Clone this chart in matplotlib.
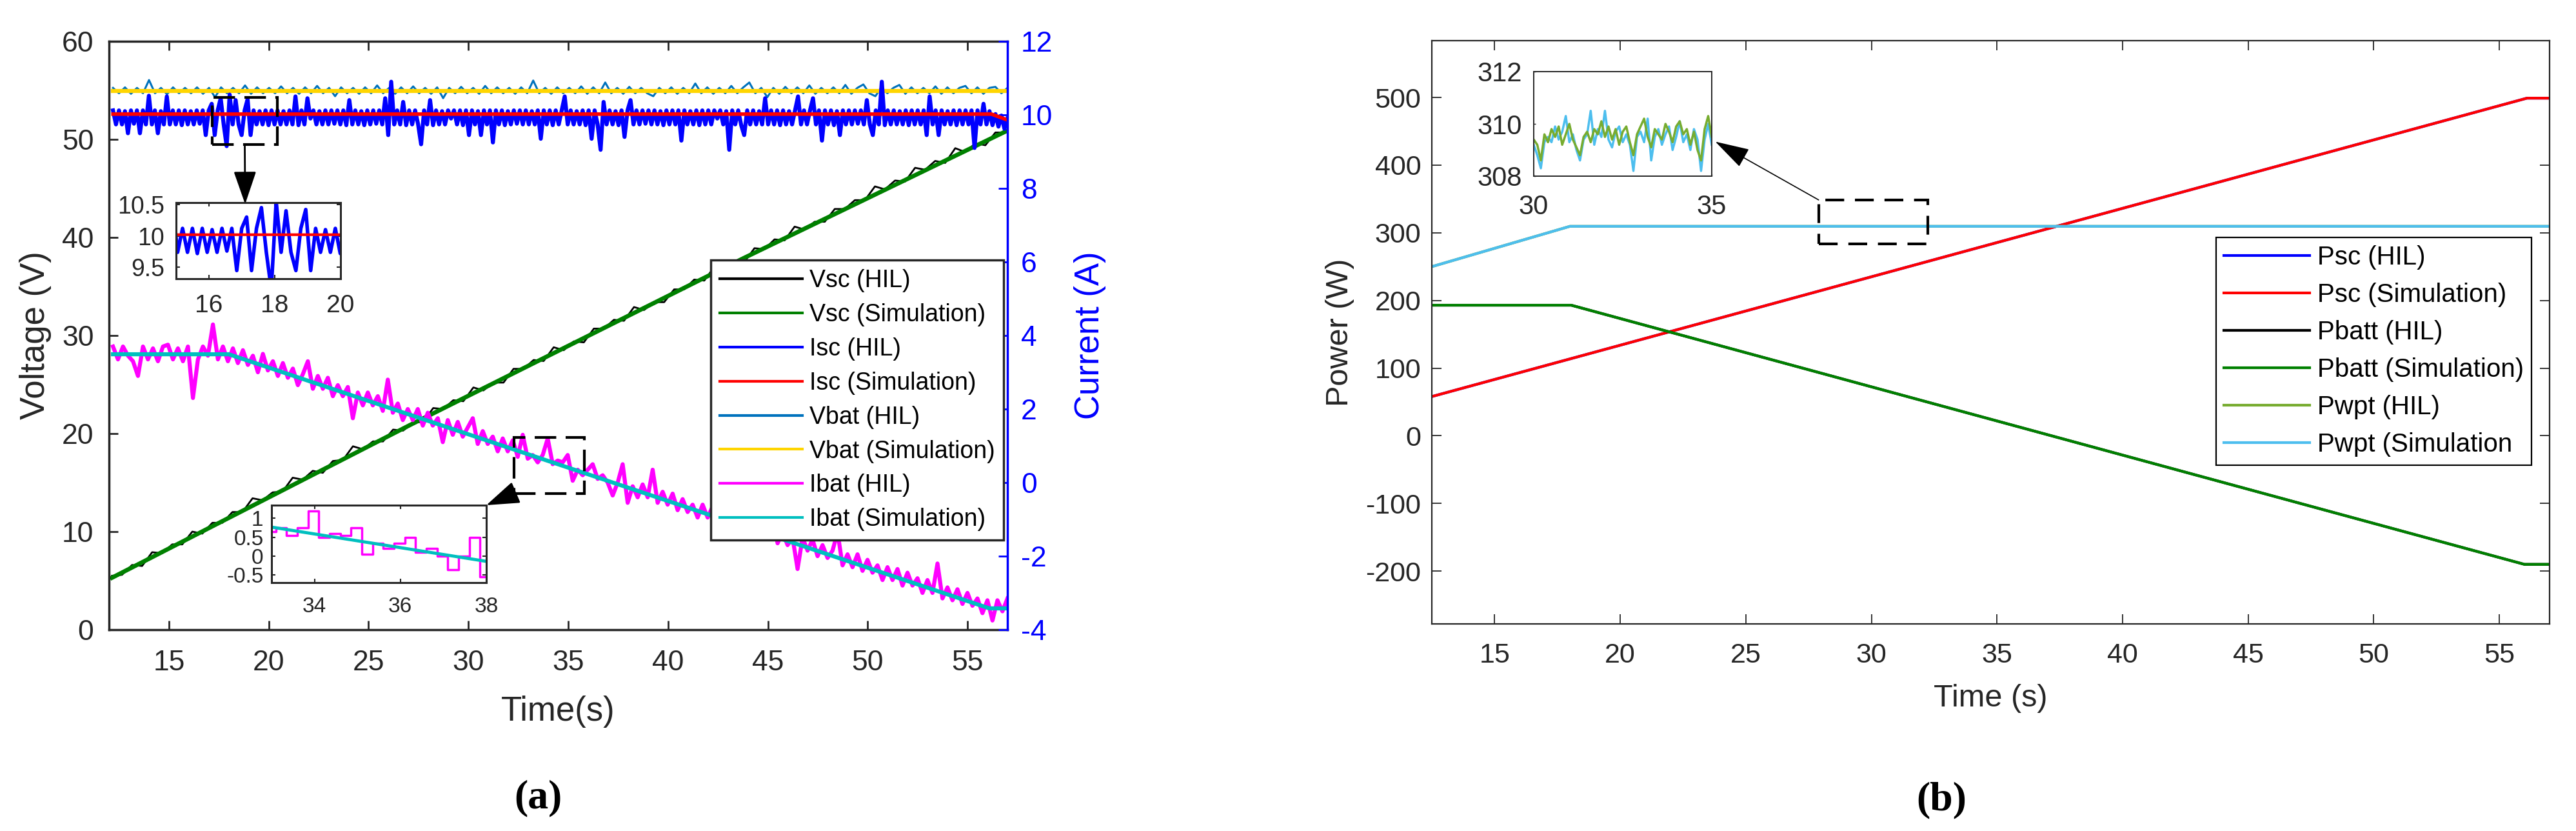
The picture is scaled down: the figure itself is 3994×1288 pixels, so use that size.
import numpy as np
import matplotlib
matplotlib.use('Agg')
import matplotlib.pyplot as plt
from matplotlib.patches import Rectangle, ConnectionPatch

plt.rcParams['font.family'] = ['Liberation Sans', 'DejaVu Sans']
plt.rcParams['axes.unicode_minus'] = False

# ---------------- (a) data ----------------
# simulation traces: breakpoints (time s, value)
vsc_sim_t = [12.15, 27.2, 43.8, 56.9]
vsc_sim = [5.3, 21.0, 37.9, 50.8]
isc_sim_t = [12.2, 56.2, 56.5, 57.0]
isc_sim = [10.02, 10.02, 9.96, 9.86]
vbat_sim_t = [12.2, 57.0]
vbat_sim = [54.95, 54.95]
ibat_sim_t = [12.2, 18.0, 56.1, 57.0]
ibat_sim = [3.49, 3.49, -3.42, -3.42]

# HIL traces, evenly sampled between the given start/end times
vsc_hil_span = (12.15, 56.9)
vsc_hil = [5.5, 5.6, 6.6, 6.5, 7.9, 7.8, 8.7, 8.7, 10.0, 9.8,
           10.9, 10.9, 12.0, 12.0, 13.4, 13.2, 14.0, 14.1, 15.5, 15.3,
           16.2, 16.0, 17.2, 17.3, 18.7, 18.4, 19.2, 19.2, 20.4, 20.3,
           21.1, 21.2, 22.6, 22.5, 23.4, 23.3, 24.7, 24.4, 25.2, 25.2,
           26.6, 26.6, 27.5, 27.4, 28.8, 28.5, 29.4, 29.3, 30.7, 30.7,
           31.6, 31.5, 32.9, 32.6, 33.4, 33.4, 34.7, 34.7, 35.7, 35.6,
           37.0, 36.7, 37.6, 37.5, 38.9, 38.8, 39.8, 39.7, 41.1, 40.8,
           41.6, 41.6, 42.9, 42.9, 43.8, 43.8, 45.2, 44.9, 45.8, 45.7,
           47.1, 46.9, 47.8, 47.6, 49.1, 48.7, 49.6, 49.4, 50.7, 50.7]

isc_hil_span = (12.2, 57.0)
isc_hil = [10.12, 9.74, 10.12, 9.74, 10.1, 9.5, 10.12, 9.76, 10.12, 9.5, 10.12, 9.74, 10.52, 9.74, 10.12, 9.5, 10.1, 9.74, 10.5, 9.74,
           10.12, 9.74, 10.12, 9.72, 10.12, 9.74, 10.1, 9.74, 10.12, 9.76, 10.12, 9.45, 10.12, 10.3, 9.45, 10.12, 10.45, 9.74, 9.15, 10.55,
           9.74, 10.4, 9.74, 9.45, 10.12, 10.42, 9.45, 10.12, 9.74, 10.1, 9.74, 10.12, 9.72, 10.12, 9.74, 10.12, 9.74, 10.1, 9.74, 10.12,
           9.74, 10.5, 9.72, 10.12, 9.74, 10.45, 9.9, 10.12, 9.74, 10.1, 9.74, 10.12, 9.74, 10.12, 9.76, 10.12, 9.74, 10.12, 9.72, 10.4,
           9.74, 10.12, 9.74, 10.1, 9.72, 10.12, 9.74, 10.12, 9.76, 10.12, 9.74, 10.45, 9.45, 10.9, 9.74, 10.12, 9.74, 10.35, 9.72, 10.12,
           9.74, 10.12, 9.74, 9.2, 10.12, 9.74, 10.4, 9.72, 10.12, 9.74, 10.1, 9.74, 10.12, 9.9, 10.12, 9.74, 10.12, 9.72, 10.12, 9.45,
           10.12, 9.74, 10.1, 9.45, 10.12, 9.74, 10.12, 9.25, 10.12, 9.74, 10.12, 9.72, 10.1, 9.74, 10.12, 9.76, 10.12, 9.74, 10.12, 9.74,
           10.1, 9.74, 10.12, 9.35, 10.12, 9.74, 10.12, 9.72, 10.12, 9.74, 10.12, 10.5, 9.74, 10.12, 9.74, 10.1, 9.74, 10.12, 9.72, 10.12,
           9.35, 10.12, 9.74, 9.05, 10.35, 9.74, 10.12, 9.74, 10.1, 9.72, 10.12, 9.4, 10.12, 10.4, 9.74, 10.12, 9.74, 10.12, 9.76, 10.12,
           9.74, 10.12, 9.74, 10.1, 9.72, 10.12, 9.74, 10.12, 9.74, 10.12, 9.3, 10.12, 9.74, 10.1, 9.74, 10.12, 9.72, 10.12, 9.74, 10.12,
           9.74, 10.12, 9.9, 10.12, 9.74, 10.1, 9.05, 10.12, 9.74, 10.12, 9.72, 9.45, 10.12, 9.74, 10.12, 9.74, 10.1, 9.74, 10.45, 9.74,
           10.12, 9.74, 10.12, 9.72, 10.12, 9.74, 10.1, 9.74, 10.12, 10.5, 9.74, 10.12, 9.74, 10.12, 10.45, 9.74, 10.12, 9.3, 10.12, 9.74,
           10.12, 9.72, 10.1, 9.45, 10.12, 9.74, 10.12, 9.74, 10.12, 9.76, 10.12, 9.74, 10.4, 9.74, 9.45, 10.12, 9.74, 10.9, 9.72, 10.12,
           9.74, 10.12, 9.74, 10.1, 9.74, 10.12, 9.72, 10.12, 9.74, 10.12, 9.74, 10.12, 9.45, 10.5, 9.74, 10.12, 9.45, 10.12, 9.74, 10.1,
           9.74, 10.12, 9.72, 10.12, 9.74, 10.12, 9.74, 10.12, 9.1, 10.12, 9.74, 10.3, 9.74, 10.1, 9.72, 10.02, 9.68, 9.98, 9.62, 9.9]

vbat_hil_span = (12.2, 57.0)
vbat_hil = [55.25, 54.7, 55.3, 54.65, 55.25, 54.7, 56.05, 54.7, 55.25, 54.6, 55.3, 54.7, 55.25, 54.7, 55.3,
            54.65, 55.25, 54.3, 55.3, 54.7, 55.25, 54.7, 55.5, 54.65, 55.3, 54.7, 55.25, 54.7, 55.4, 54.7,
            55.25, 54.65, 55.3, 54.7, 55.45, 54.7, 55.25, 54.4, 55.3, 54.7, 55.25, 54.65, 55.3, 54.7, 55.5,
            54.7, 55.25, 54.65, 55.3, 54.7, 55.4, 54.7, 55.25, 54.65, 55.3, 54.2, 55.25, 54.7, 55.35, 54.7,
            55.25, 54.65, 55.45, 54.7, 55.3, 54.7, 55.25, 54.65, 55.3, 54.7, 56.0, 54.7, 55.25, 54.65, 55.3,
            54.7, 55.25, 54.7, 55.4, 54.65, 55.3, 54.7, 55.8, 54.7, 55.25, 54.65, 55.35, 54.7, 55.25, 54.7,
            54.4, 55.25, 54.7, 55.3, 54.65, 55.25, 54.7, 55.7, 54.7, 55.3, 54.65, 55.25, 54.7, 55.45, 54.7,
            55.3, 55.8, 54.7, 55.25, 54.3, 55.25, 54.65, 55.35, 54.7, 55.3, 54.7, 55.5, 54.65, 55.25, 54.7,
            55.3, 54.7, 55.55, 54.65, 55.25, 55.6, 54.7, 54.4, 55.3, 54.7, 55.25, 55.55, 54.65, 55.3, 54.7,
            55.25, 54.7, 55.4, 54.65, 55.3, 54.7, 55.25, 55.45, 54.7, 55.3, 54.65, 55.25, 55.35, 54.7, 55.25]

ibat_hil_span = (12.2, 57.0)
ibat_hil = [3.7, 3.35, 3.7, 3.45, 3.3, 2.9, 3.7, 3.35, 3.65, 3.3, 3.7, 3.75, 3.35, 3.65, 3.3, 3.7, 2.3, 3.35, 3.7, 3.45, 4.3, 3.35, 3.7, 3.3,
            3.65, 3.25, 3.6, 3.2, 3.45, 3.0, 3.5, 3.05, 3.3, 2.9, 3.25, 2.85, 3.1, 2.65, 2.95, 3.3, 2.55, 2.9, 2.55, 2.85, 2.35, 2.65, 2.35, 2.6,
            1.75, 2.45, 2.1, 2.45, 2.1, 2.35, 1.95, 2.8, 1.9, 2.15, 1.7, 2.0, 1.7, 2.0, 1.55, 1.9, 1.55, 1.75, 1.1, 1.7, 1.3, 1.65, 1.25, 1.5,
            1.75, 1.05, 1.4, 1.05, 1.25, 0.85, 1.2, 0.85, 1.15, 0.7, 1.3, 0.65, 0.75, 0.55, 0.75, 1.2, 0.5, 0.6, 0.55, 0.75, 0.05, 0.35, 0.2, 0.35,
            0.5, 0.1, 0.2, 0.0, -0.35, 0.0, 0.5, -0.55, -0.1, -0.4, -0.05, -0.4, 0.35, -0.55, -0.25, -0.6, -0.3, -0.75, -0.45, -0.8, -0.6, -0.95, -0.6, -0.95,
            -0.65, -1.1, -0.8, -1.15, -0.95, -1.35, -0.95, -1.3, -1.0, -1.45, -1.15, -1.5, -0.95, -1.65, -1.35, -1.7, -1.5, -2.35, -1.5, -1.85, -1.55, -2.0, -1.7, -2.05,
            -1.85, -1.35, -2.25, -1.95, -2.3, -1.95, -2.4, -2.1, -2.45, -2.25, -2.65, -2.3, -2.65, -2.35, -2.8, -2.45, -2.8, -2.6, -3.0, -2.65, -3.0, -2.2, -3.15, -2.85,
            -3.2, -2.9, -3.3, -3.0, -3.35, -3.15, -3.55, -3.2, -3.75, -3.2, -3.5, -3.15]

labels_a = ['Vsc (HIL)', 'Vsc (Simulation)', 'Isc (HIL)', 'Isc (Simulation)',
            'Vbat (HIL)', 'Vbat (Simulation)', 'Ibat (HIL)', 'Ibat (Simulation)']

# ---------------- (b) data ----------------
psc_t = [12.5, 56.1, 57.0]
psc = [58, 499, 499]
pbatt_t = [12.5, 18.05, 56.0, 57.0]
pbatt = [193, 193, -190, -190]
pwpt_t = [12.5, 18.0, 57.0]
pwpt = [250, 309.6, 309.6]
# zoomed window 30-35 s
pwpt_zoom_span = (30.0, 35.0)
pwpt_hil_zoom = [309.4, 309.2, 308.6, 309.6, 309.3, 309.8, 309.5, 309.9, 309.2, 309.6,
                 310.0, 309.4, 309.1, 308.8, 309.5, 309.7, 309.3, 309.8, 309.6, 310.1,
                 309.5, 309.9, 309.4, 309.8, 309.2, 309.7, 309.9, 309.3, 308.8, 309.6,
                 309.9, 310.2, 309.5, 309.1, 309.8, 309.6, 309.4, 310.0, 309.7, 309.3,
                 309.9, 310.1, 309.6, 309.8, 309.2, 309.7, 309.0, 308.6, 309.8, 310.3, 309.5]
pwpt_sim_zoom = [309.2, 308.8, 308.3, 309.3, 309.5, 309.3, 309.9, 309.4, 309.7, 310.3,
                 309.3, 309.6, 309.0, 308.6, 309.4, 309.6, 310.5, 309.2, 309.8, 309.5,
                 310.5, 309.4, 309.1, 309.7, 309.9, 309.3, 309.6, 309.2, 308.2, 309.5,
                 309.7, 309.3, 310.2, 308.6, 309.5, 309.8, 309.2, 309.6, 309.9, 309.0,
                 309.5, 310.1, 309.3, 309.6, 309.0, 309.8, 309.4, 308.2, 309.4, 310.0, 309.2]

labels_b = ['Psc (HIL)', 'Psc (Simulation)', 'Pbatt (HIL)', 'Pbatt (Simulation)',
            'Pwpt (HIL)', 'Pwpt (Simulation']


def grid(span, vals):
	return np.linspace(span[0], span[1], len(vals))


W, H = 3994.0, 1288.0
DARK = '#262626'
fig = plt.figure(figsize=(W / 100, H / 100), dpi=100)

# ================= panel (a) =================
ax = fig.add_axes([169 / W, 1 - 976 / H, (1562 - 169) / W, (976 - 64) / H])
ax2 = ax.twinx()

l1, = ax.plot(grid(vsc_hil_span, vsc_hil), vsc_hil, color='k', lw=2.0)
l2, = ax.plot(vsc_sim_t, vsc_sim, color='#008000', lw=4.8)
l5, = ax.plot(grid(vbat_hil_span, vbat_hil), vbat_hil, color='#0072BD', lw=2.2)
l6, = ax.plot(vbat_sim_t, vbat_sim, color='#FFD500', lw=4.5)
l3, = ax2.plot(grid(isc_hil_span, isc_hil), isc_hil, color='#0000FF', lw=4.5)
l4, = ax2.plot(isc_sim_t, isc_sim, color='#FF0000', lw=4.0)
l7, = ax2.plot(grid(ibat_hil_span, ibat_hil), ibat_hil, color='#FF00FF', lw=4.5)
l8, = ax2.plot(ibat_sim_t, ibat_sim, color='#00BFBF', lw=4.5)

ax.set_xlim(12, 57)
ax.set_ylim(0, 60)
ax2.set_ylim(-4, 12)
ax.set_xticks(np.arange(15, 56, 5))
ax.set_yticks(np.arange(0, 61, 10))
ax2.set_yticks(np.arange(-4, 13, 2))

for s in ['left', 'top', 'bottom']:
	ax.spines[s].set_color(DARK)
	ax.spines[s].set_linewidth(2.5)
	ax2.spines[s].set_visible(False)
ax.spines['right'].set_visible(False)
ax2.spines['right'].set_color('#0000FF')
ax2.spines['right'].set_linewidth(2.5)

ax.tick_params(axis='x', direction='in', top=True, length=10, width=2, labelsize=32, pad=22, colors=DARK)
ax.tick_params(axis='y', direction='in', right=False, length=10, width=2, labelsize=32, pad=17, colors=DARK)
ax2.tick_params(axis='y', direction='in', length=10, width=2, labelsize=32, pad=15, colors='#0000FF')

ax.set_ylabel('Voltage (V)', fontsize=38, color=DARK)
ax.yaxis.set_label_coords(-0.064, 0.5)
ax2.set_ylabel('Current (A)', fontsize=38, color='#0000FF')
ax2.yaxis.set_label_coords(1.074, 0.5)
ax.set_xlabel('Time(s)', fontsize=38, color=DARK)
ax.xaxis.set_label_coords(0.5, -0.112)

leg = ax2.legend([l1, l2, l3, l4, l5, l6, l7, l8], labels_a, loc='upper right',
                 bbox_to_anchor=(0.996, 0.628), fontsize=27, handlelength=3.4,
                 labelspacing=0.45, borderpad=0.37, handletextpad=0.3, borderaxespad=0,
                 fancybox=False, framealpha=1, edgecolor=DARK)
leg.get_frame().set_linewidth(2.5)
for ln in leg.get_lines():
	ln.set_linewidth(3.0)

# zoom boxes (time, current)
ax2.add_patch(Rectangle((17.16, 9.2), 3.26, 1.28, fill=False, ec='k', lw=3, ls=(0, (8, 3.5)), zorder=5))
ax2.add_patch(Rectangle((32.3, -0.29), 3.5, 1.52, fill=False, ec='k', lw=3, ls=(0, (8, 3.5)), zorder=5))

# inset: Isc 15-20 s
ins1 = fig.add_axes([273 / W, 1 - 432 / H, 255 / W, 118 / H])
ins1.plot(grid(isc_hil_span, isc_hil), isc_hil, color='#0000FF', lw=4.0)
ins1.plot(isc_sim_t, isc_sim, color='#FF0000', lw=3)
ins1.set_xlim(15, 20)
ins1.set_ylim(9.32, 10.53)
ins1.set_xticks([16, 18, 20])
ins1.set_yticks([9.5, 10, 10.5])
ins1.set_yticklabels(['9.5', '10', '10.5'])
ins1.tick_params(axis='x', direction='in', top=True, length=4, width=1.5, labelsize=28, pad=17, colors=DARK)
ins1.tick_params(axis='y', direction='in', right=True, length=4, width=1.5, labelsize=27, pad=13, colors=DARK)
for s in ins1.spines.values():
	s.set_color(DARK)
	s.set_linewidth(2.2)

# inset: Ibat 33-38 s
ins2 = fig.add_axes([421 / W, 1 - 903 / H, 333 / W, 120 / H])
ins2.plot(grid(ibat_hil_span, ibat_hil), ibat_hil, color='#FF00FF', lw=2.5, drawstyle='steps-mid')
ins2.plot(ibat_sim_t, ibat_sim, color='#00BFBF', lw=3.5)
ins2.set_xlim(33, 38)
ins2.set_ylim(-0.7, 1.35)
ins2.set_xticks([34, 36, 38])
ins2.set_yticks([-0.5, 0, 0.5, 1])
ins2.set_yticklabels(['-0.5', '0', '0.5', '1'])
ins2.tick_params(axis='x', direction='in', top=True, length=4, width=1.5, labelsize=24, pad=16, colors=DARK)
ins2.tick_params(axis='y', direction='in', right=True, length=4, width=1.5, labelsize=24, pad=9, colors=DARK)
for s in ins2.spines.values():
	s.set_color(DARK)
	s.set_linewidth(2.2)

fig.add_artist(ConnectionPatch(xyA=(18.8, 9.2), coordsA='data', axesA=ax2,
                               xyB=(0.42, 0.98), coordsB='axes fraction', axesB=ins1,
                               arrowstyle='-|>,head_length=1.6,head_width=0.55',
                               mutation_scale=20, lw=2, color='k'))
fig.add_artist(ConnectionPatch(xyA=(32.3, -0.29), coordsA='data', axesA=ax2,
                               xyB=(1.0, 1.0), coordsB='axes fraction', axesB=ins2,
                               arrowstyle='-|>,head_length=1.6,head_width=0.55',
                               mutation_scale=20, lw=2, color='k'))

# ================= panel (b) =================
bx = fig.add_axes([2220 / W, 1 - 967 / H, 1733 / W, 904 / H])
m1, = bx.plot(psc_t, psc, color='#0000FF', lw=3)
m2, = bx.plot(psc_t, psc, color='#FF0000', lw=3)
m3, = bx.plot(pbatt_t, pbatt, color='k', lw=3)
m4, = bx.plot(pbatt_t, pbatt, color='#008000', lw=3)
m5, = bx.plot(pwpt_t, pwpt, color='#77AC30', lw=3)
m6, = bx.plot(pwpt_t, pwpt, color='#4DBEEE', lw=3)

bx.set_xlim(12.5, 57)
bx.set_ylim(-278, 584)
bx.set_xticks(np.arange(15, 56, 5))
bx.set_yticks(np.arange(-200, 501, 100))
bx.tick_params(axis='x', direction='in', top=True, length=11, width=1.3, labelsize=31, pad=21, colors=DARK)
bx.tick_params(axis='y', direction='in', right=True, length=11, width=1.3, labelsize=31, pad=12, colors=DARK)
for s in bx.spines.values():
	s.set_color(DARK)
	s.set_linewidth(1.6)
bx.set_ylabel('Power (W)', fontsize=35, color=DARK)
bx.yaxis.set_label_coords(-0.069, 0.5)
bx.set_xlabel('Time (s)', fontsize=35, color=DARK)
bx.xaxis.set_label_coords(0.5, -0.103)

legb = bx.legend([m1, m2, m3, m4, m5, m6], labels_b, loc='upper right',
                 bbox_to_anchor=(0.984, 0.663), fontsize=29, handlelength=3.3,
                 labelspacing=0.5, borderpad=0.3, handletextpad=0.3, borderaxespad=0,
                 fancybox=False, framealpha=1, edgecolor='k')
legb.get_frame().set_linewidth(1.6)

bx.add_patch(Rectangle((27.9, 283.4), 4.34, 65.2, fill=False, ec='k', lw=3, ls=(0, (7, 4)), zorder=5))

ins3 = fig.add_axes([2378 / W, 1 - 273 / H, 276 / W, 162 / H])
ins3.plot(grid(pwpt_zoom_span, pwpt_sim_zoom), pwpt_sim_zoom, color='#4DBEEE', lw=2.5)
ins3.plot(grid(pwpt_zoom_span, pwpt_hil_zoom), pwpt_hil_zoom, color='#77AC30', lw=2.5)
ins3.set_xlim(30, 35)
ins3.set_ylim(308, 312)
ins3.set_xticks([30, 35])
ins3.set_yticks([308, 310, 312])
ins3.tick_params(axis='x', direction='in', length=2, width=1, labelsize=30, pad=20, colors=DARK)
ins3.tick_params(axis='y', direction='in', length=2, width=1, labelsize=30, pad=13, colors=DARK)
for s in ins3.spines.values():
	s.set_color(DARK)
	s.set_linewidth(1.4)

fig.add_artist(ConnectionPatch(xyA=(27.9, 348.6), coordsA='data', axesA=bx,
                               xyB=(1.02, 0.33), coordsB='axes fraction', axesB=ins3,
                               arrowstyle='-|>,head_length=1.7,head_width=0.5',
                               mutation_scale=20, lw=1.2, color='k'))

# panel captions
serif = ['Liberation Serif', 'DejaVu Serif']
fig.text(834 / W, 1 - 1237 / H, '(a)', ha='center', va='center', fontsize=46, fontweight='bold', family=serif)
fig.text(3010 / W, 1 - 1240 / H, '(b)', ha='center', va='center', fontsize=46, fontweight='bold', family=serif)

fig.savefig('out.png', dpi=100)
